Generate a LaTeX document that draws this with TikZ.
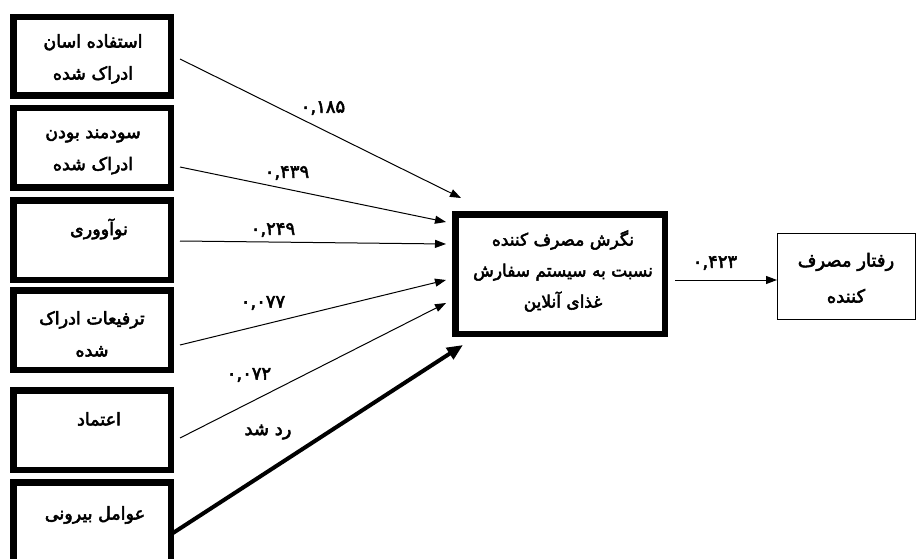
\documentclass[tikz,border=0pt]{standalone}
\usepackage{fontspec}
\usetikzlibrary{arrows.meta}
\newfontfamily\fa[Script=Arabic, FakeBold=3]{DejaVu Sans}
\TeXXeTstate=1
\tikzset{
  heavybox/.style={draw, line width=6.5pt, minimum width=157.5pt, inner sep=0pt},
  thinbox/.style={draw, line width=1pt, inner sep=0pt},
  fatext/.style={font=\fa\fontsize{17.5}{32}\selectfont, align=center, inner sep=0pt},
  coef/.style={font=\fa\fontsize{18}{16}\selectfont, inner sep=0pt},
  link/.style={line width=1pt, -{Triangle[length=11pt,width=8pt]}},
  heavylink/.style={line width=4pt, -{Triangle[length=16pt,width=13pt]}}
}
\begin{document}
\begin{tikzpicture}[x=1pt, y=-1pt]
\useasboundingbox (0,0) rectangle (916,559);
\clip (0,0) rectangle (916,559);
\fill[white] (0,0) rectangle (916,559);

% input constructs (left column)
\node[heavybox, minimum height=78.5pt] (b1) at (92,56.5) {};
\node[heavybox, minimum height=79.5pt] (b2) at (92,148) {};
\node[heavybox, minimum height=79.5pt] (b3) at (92,240) {};
\node[heavybox, minimum height=79.5pt] (b4) at (92,330) {};
\node[heavybox, minimum height=79.5pt] (b5) at (92,430) {};
\node[heavybox, minimum height=79.5pt] (b6) at (92,522) {};

\node[fatext] (t1) at (93,59) {\beginR استفاده اسان\endR\\\beginR ادراک شده\endR};
\node[fatext] (t2) at (93,152) {\beginR سودمند بودن\endR\\\beginR ادراک شده\endR};
\node[fatext] (t3) at (99,229) {\beginR نوآووری\endR};
\node[fatext] (t4) at (92,334) {\beginR ترفیعات ادراک\endR\\\beginR شده\endR};
\node[fatext] (t5) at (99,419) {\beginR اعتماد\endR};
\node[fatext] (t6) at (95,515) {\beginR عوامل بیرونی\endR};

% mediator and outcome
\node[heavybox, minimum width=209.5pt, minimum height=119.5pt] (att) at (560,274) {};
\node[fatext, font=\fa\fontsize{17}{31}\selectfont] (tatt) at (563,271)
  {\beginR نگرش مصرف کننده\endR\\\beginR نسبت به سیستم سفارش\endR\\\beginR غذای آنلاین\endR};
\node[thinbox, minimum width=138pt, minimum height=86pt] (beh) at (846.5,276.5) {};
\node[fatext, font=\fa\fontsize{18}{36}\selectfont] (tbeh) at (846,278)
  {\beginR رفتار مصرف\endR\\\beginR کننده\endR};

% arrow end points around the mediator
\coordinate (e1) at (461,198);
\coordinate (e2) at (446,222);
\coordinate (e3) at (446,244);
\coordinate (e4) at (446,280);
\coordinate (e5) at (446,303);
\coordinate (e6) at (463,345);
\coordinate (s7) at ([xshift=7pt,yshift=-6pt]att.east);

\draw[link] ([xshift=6pt,yshift=-2.5pt]b1.east) -- (e1);
\draw[link] ([xshift=6pt,yshift=-19pt]b2.east) -- (e2);
\draw[link] ([xshift=6pt,yshift=-1pt]b3.east) -- (e3);
\draw[link] ([xshift=6pt,yshift=-15pt]b4.east) -- (e4);
\draw[link] ([xshift=6pt,yshift=-8pt]b5.east) -- (e5);
\draw[heavylink] ([xshift=-1pt,yshift=-11pt]b6.east) -- (e6);
\draw[link] (s7) -- (s7 -| beh.west);

% path coefficients
\node[coef] (c1) at (323,108) {۰,۱۸۵};
\node[coef] (c2) at (287,173) {۰,۴۳۹};
\node[coef] (c3) at (273,230) {۰,۲۴۹};
\node[coef] (c4) at (263,303) {۰,۰۷۷};
\node[coef] (c5) at (249,375) {۰,۰۷۲};
\node[coef] (c6) at (268,432) {\beginR رد شد\endR};
\node[coef] (c7) at (715,263) {۰,۴۲۳};
\end{tikzpicture}
\end{document}
